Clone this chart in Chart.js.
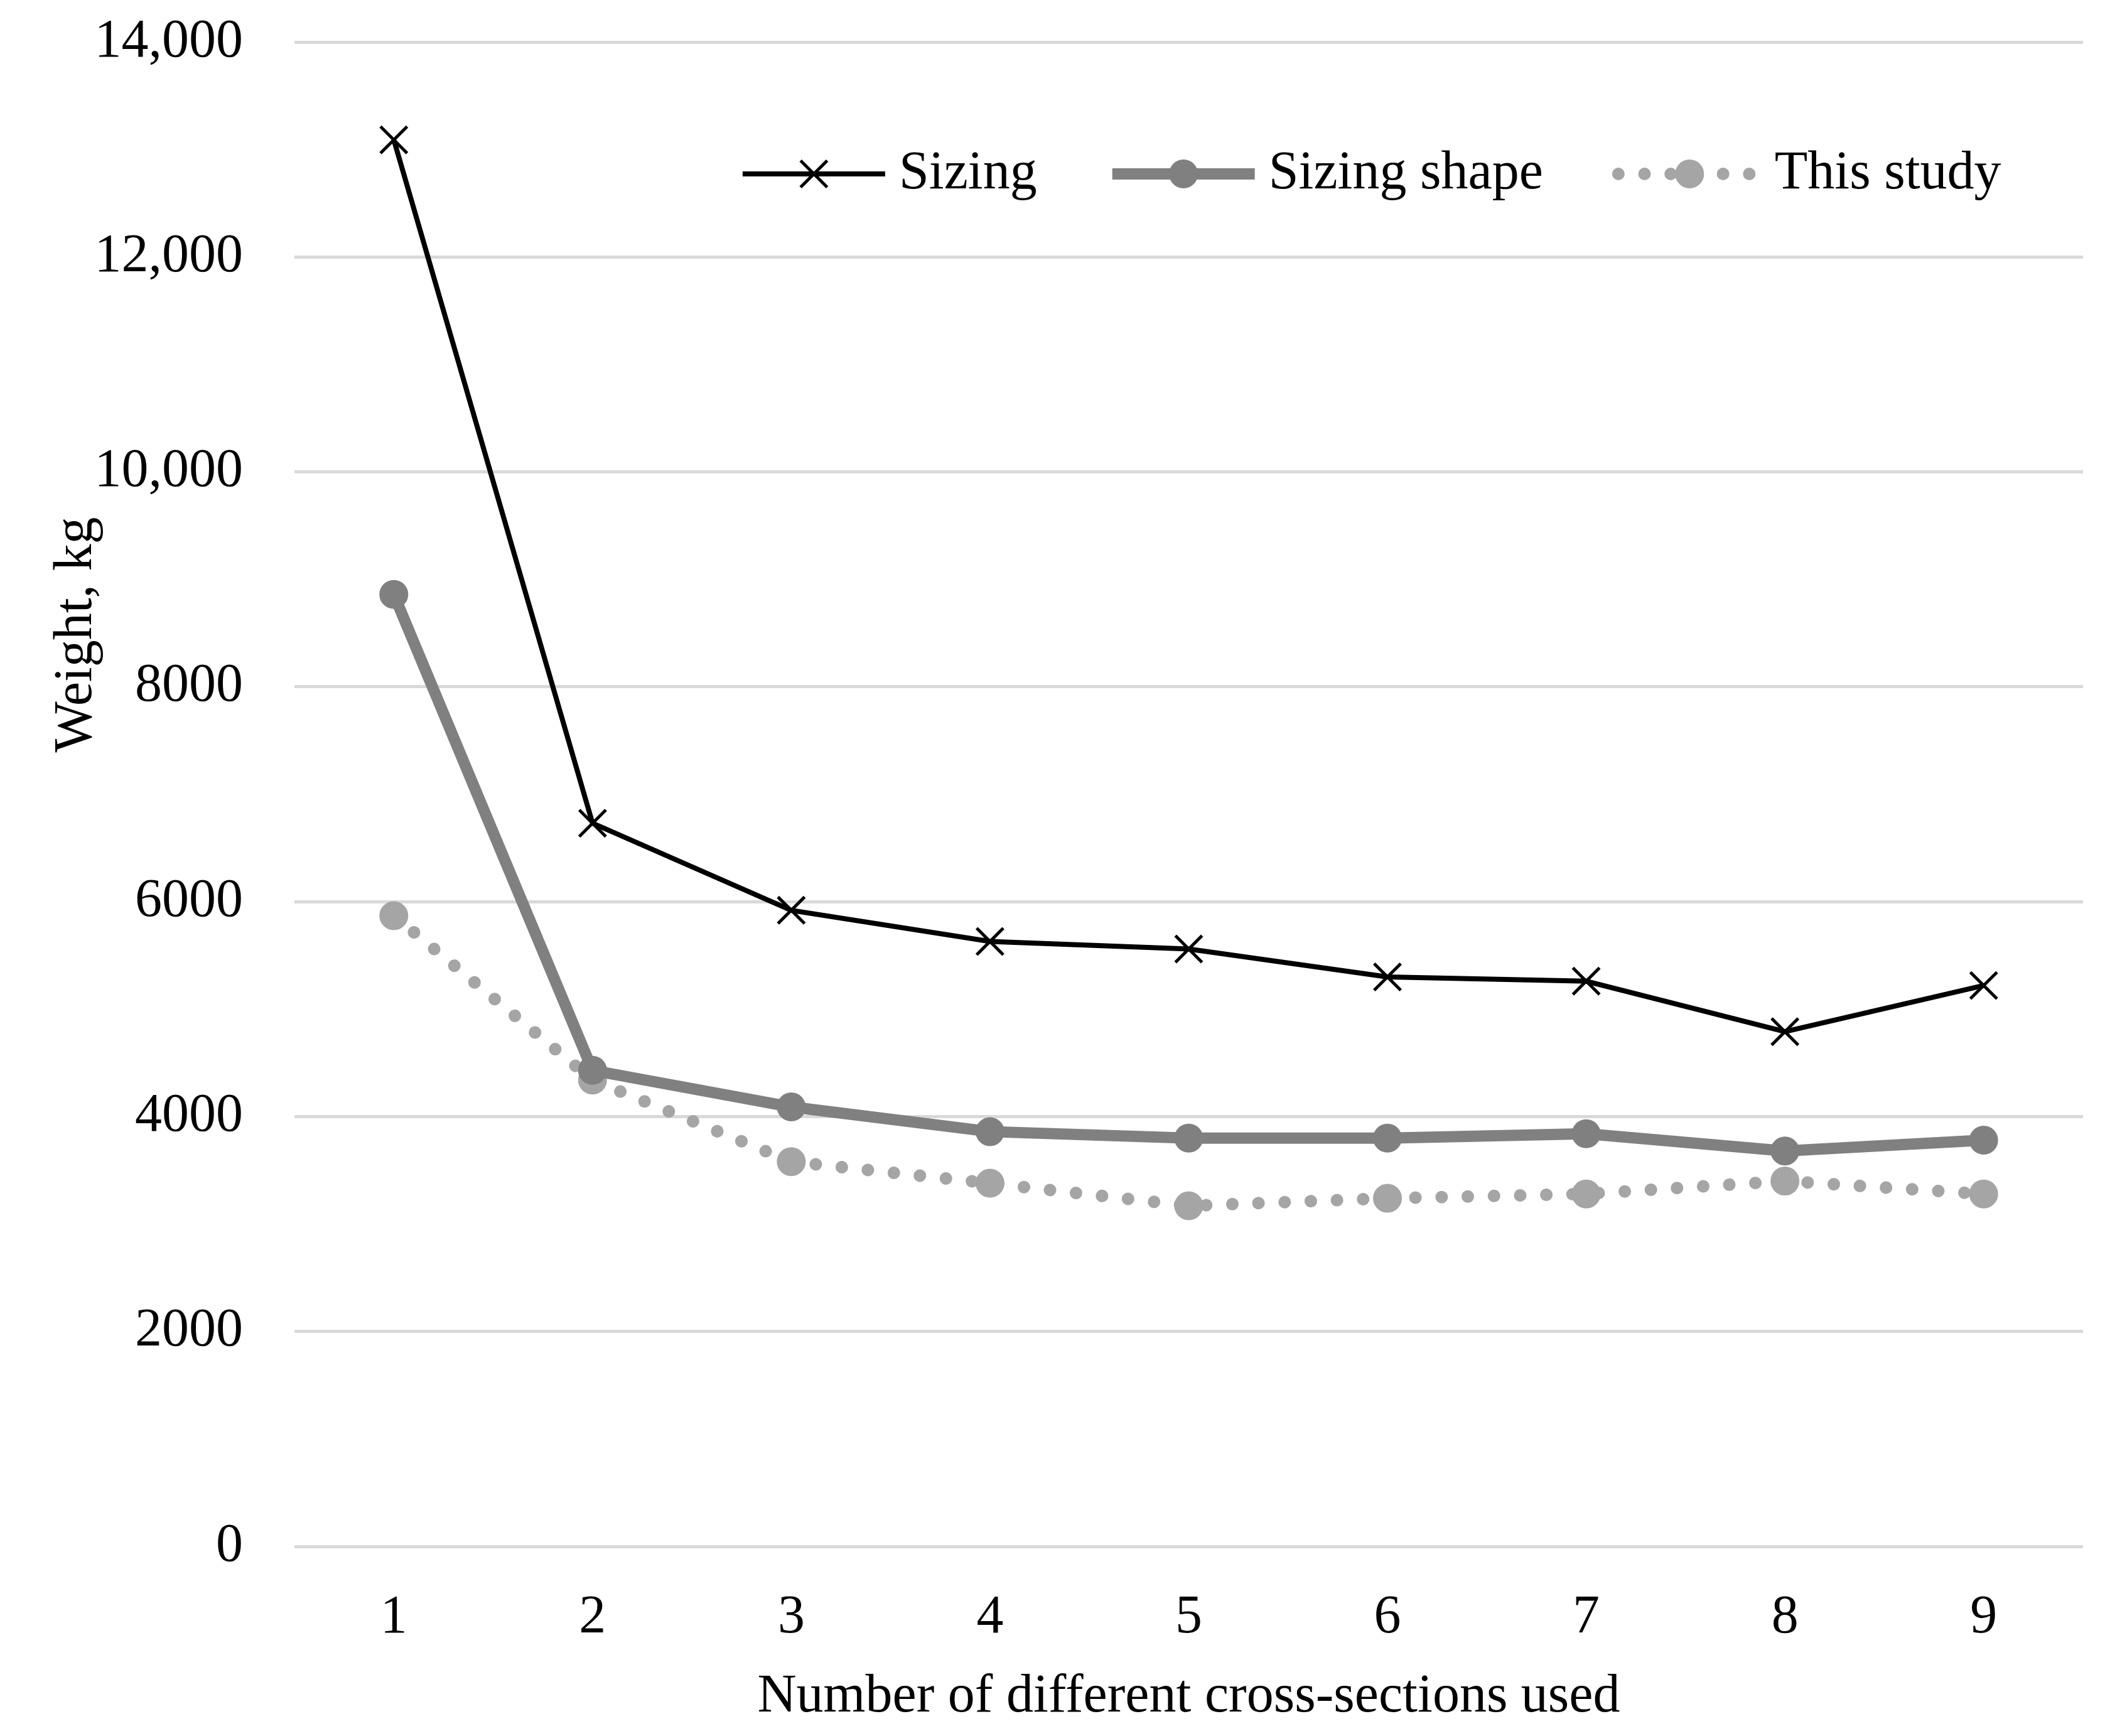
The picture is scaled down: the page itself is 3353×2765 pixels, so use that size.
<!DOCTYPE html>
<html><head><meta charset="utf-8">
<style>html,body{margin:0;padding:0;background:#fff;}canvas{display:block;}</style>
<script src="https://cdn.jsdelivr.net/npm/chart.js@4.4.1/dist/chart.umd.min.js"></script>
</head><body>
<canvas id="c" width="3353" height="2765"></canvas>
<script>
const categories = ['1','2','3','4','5','6','7','8','9'];
const sizing      = [13090, 6730, 5920, 5630, 5560, 5300, 5260, 4790, 5220];
const sizingShape = [8860, 4430, 4090, 3860, 3800, 3800, 3840, 3680, 3780];
const thisStudy   = [5870, 4340, 3580, 3380, 3170, 3240, 3280, 3400, 3280];
const yTickLabels = ['0','2000','4000','6000','8000','10,000','12,000','14,000'];
const seriesLabels = ['Sizing','Sizing shape','This study'];
const xTitle = 'Number of different cross-sections used';
const yTitle = 'Weight, kg';

const FONT = '"Liberation Serif", "Times New Roman", serif';
const FS = 86;

const insideLegend = {
  id: 'insideLegend',
  afterDraw(chart) {
    const ctx = chart.ctx, ca = chart.chartArea;
    const ds = chart.data.datasets;
    ctx.save();
    ctx.font = FS + 'px ' + FONT;
    const sample = 227, gapText = 22, gapItem = 120;
    const widths = ds.map(d => ctx.measureText(d.label).width);
    const total = widths.reduce((a, w) => a + sample + gapText + w, 0) + gapItem * (ds.length - 1);
    const cx = ca.left + (ca.right - ca.left) * 0.6024;
    const y = ca.top + 210;
    let x = cx - total / 2;
    ds.forEach((d, i) => {
      ctx.save();
      ctx.strokeStyle = d.borderColor;
      ctx.lineWidth = d.borderWidth;
      ctx.lineCap = d.borderCapStyle || 'butt';
      ctx.setLineDash(d.borderDash || []);
      ctx.beginPath();
      ctx.moveTo(x, y);
      ctx.lineTo(x + sample, y);
      ctx.stroke();
      ctx.setLineDash([]);
      ctx.fillStyle = d.pointBackgroundColor;
      ctx.strokeStyle = d.pointBorderColor;
      ctx.lineWidth = d.pointBorderWidth;
      Chart.helpers.drawPoint(ctx, {pointStyle: d.pointStyle, radius: d.pointRadius, borderWidth: d.pointBorderWidth, rotation: 0}, x + sample / 2, y);
      ctx.restore();
      ctx.fillStyle = '#000';
      ctx.textBaseline = 'middle';
      ctx.textAlign = 'left';
      ctx.fillText(d.label, x + sample + gapText, y);
      x += sample + gapText + widths[i] + gapItem;
    });
    ctx.restore();
  }
};

const yTitlePlugin = {
  id: 'yTitlePlugin',
  afterDraw(chart) {
    const ctx = chart.ctx, ca = chart.chartArea;
    ctx.save();
    ctx.font = FS + 'px ' + FONT;
    ctx.fillStyle = '#000';
    ctx.textAlign = 'center';
    ctx.textBaseline = 'middle';
    ctx.translate(ca.left - 347, ca.top + 944);
    ctx.rotate(-Math.PI / 2);
    ctx.fillText(yTitle, 0, 0);
    ctx.restore();
  }
};

new Chart(document.getElementById('c'), {
  type: 'line',
  data: {
    labels: categories,
    datasets: [
      {
        label: seriesLabels[0], data: sizing,
        borderColor: '#000000', borderWidth: 8,
        pointStyle: 'crossRot', pointRadius: 30, pointBorderWidth: 5,
        pointBackgroundColor: '#000000', pointBorderColor: '#000000',
        tension: 0, order: 1
      },
      {
        label: seriesLabels[1], data: sizingShape,
        borderColor: '#808080', borderWidth: 18,
        pointStyle: 'circle', pointRadius: 22, pointBorderWidth: 2,
        pointBackgroundColor: '#808080', pointBorderColor: '#808080',
        tension: 0, order: 2
      },
      {
        label: seriesLabels[2], data: thisStudy,
        borderColor: '#a5a5a5', borderWidth: 20,
        borderDash: [0.1, 41.6], borderCapStyle: 'round',
        pointStyle: 'circle', pointRadius: 22, pointBorderWidth: 2,
        pointBackgroundColor: '#a5a5a5', pointBorderColor: '#a5a5a5',
        tension: 0, order: 3
      }
    ]
  },
  options: {
    responsive: false,
    animation: false,
    devicePixelRatio: 1,
    layout: { padding: { top: 67, right: 18, left: 0, bottom: 0 } },
    plugins: { legend: { display: false }, tooltip: { enabled: false } },
    scales: {
      x: {
        type: 'category',
        offset: true,
        grid: { display: false, drawTicks: false },
        border: { display: false },
        ticks: { color: '#000', font: { family: FONT, size: FS }, padding: 63, maxRotation: 0 },
        title: { display: true, text: xTitle, color: '#000', font: { family: FONT, size: FS }, padding: { top: 0, bottom: 10 } },
        afterFit(scale) { scale.height = 302; scale.paddingLeft = 0; scale.paddingRight = 0; }
      },
      y: {
        min: 0, max: 14000,
        grid: { color: '#d9d9d9', lineWidth: 5, drawTicks: false },
        border: { display: false },
        ticks: {
          stepSize: 2000, color: '#000', font: { family: FONT, size: FS }, padding: 82,
          callback: (v, i) => yTickLabels[i]
        },
        afterFit(scale) { scale.width = 469; scale.paddingTop = 0; scale.paddingBottom = 0; }
      }
    }
  },
  plugins: [insideLegend, yTitlePlugin]
});
</script>
</body></html>
